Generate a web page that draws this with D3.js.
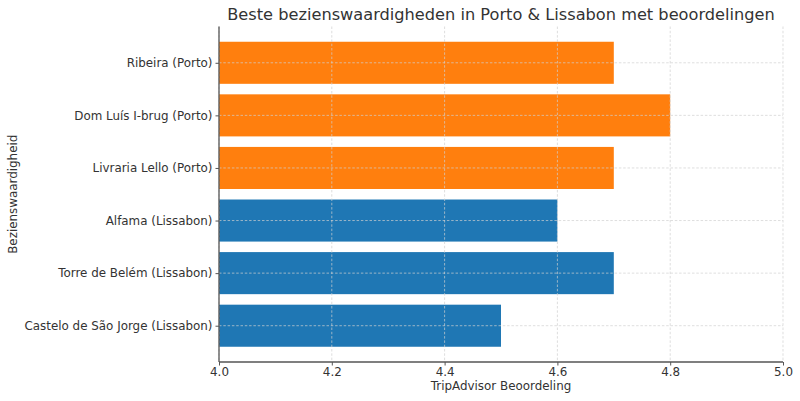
<!DOCTYPE html>
<html><head><meta charset="utf-8">
<script src="https://cdn.jsdelivr.net/npm/d3@7"></script>
<style>body{margin:0;background:#fff}svg{display:block;font-family:"DejaVu Sans",sans-serif}</style>
</head><body><svg id="c" width="800" height="401"></svg>
<script>
const categories = ["Castelo de São Jorge (Lissabon)","Torre de Belém (Lissabon)","Alfama (Lissabon)","Livraria Lello (Porto)","Dom Luís I-brug (Porto)","Ribeira (Porto)"];
const ratings = [4.5, 4.7, 4.6, 4.7, 4.8, 4.7];
const cities = ["Lissabon","Lissabon","Lissabon","Porto","Porto","Porto"];
const xTicks = [4.0, 4.2, 4.4, 4.6, 4.8, 5.0];
const colorMap = {Lissabon:"#1f77b4", Porto:"#ff7f0e"};
const title = "Beste bezienswaardigheden in Porto & Lissabon met beoordelingen";
const xLabel = "TripAdvisor Beoordeling";
const yLabel = "Bezienswaardigheid";

const svg = d3.select("#c");
const m = {l:219, r:783, t:26.5, b:362};
const x = d3.scaleLinear().domain([4.0,5.0]).range([m.l,m.r]);
const y = d3.scaleLinear().domain([-0.69,5.69]).range([m.b,m.t]);
const bh = y(0) - y(0.8);

const data = categories.map((c,i)=>({c, v:ratings[i], city:cities[i], i}));

svg.append("g").selectAll("rect").data(data).join("rect")
  .attr("x", x(4.0)).attr("y", d=>y(d.i+0.4))
  .attr("width", d=>x(d.v)-x(4.0)).attr("height", bh)
  .attr("fill", d=>colorMap[d.city]);

const g = svg.append("g").attr("stroke","#d0d0d0").attr("stroke-width",0.7).attr("stroke-dasharray","2.5,1.8");
g.selectAll("line.v").data(xTicks).join("line").attr("class","v")
  .attr("x1",d=>x(d)).attr("x2",d=>x(d)).attr("y1",m.t).attr("y2",m.b);
g.selectAll("line.h").data(data).join("line").attr("class","h")
  .attr("x1",m.l).attr("x2",m.r).attr("y1",d=>y(d.i)).attr("y2",d=>y(d.i));

const fs = 11.9;
const xAxis = d3.axisBottom(x).tickValues(xTicks).tickFormat(d3.format(".1f")).tickSize(3.5).tickPadding(2.5);
const xg = svg.append("g").attr("transform",`translate(0,${m.b})`).call(xAxis);
xg.select(".domain").remove();
xg.selectAll("line").attr("stroke","#555");
xg.selectAll("text").attr("font-size",fs).attr("fill","#333").attr("font-family","DejaVu Sans");

const yAxis = d3.axisLeft(y).tickValues(data.map(d=>d.i)).tickFormat(i=>categories[i]).tickSize(3.5).tickPadding(3);
const yg = svg.append("g").attr("transform",`translate(${m.l},0)`).call(yAxis);
yg.select(".domain").remove();
yg.selectAll("line").attr("stroke","#555");
yg.selectAll("text").attr("font-size",fs).attr("fill","#333").attr("font-family","DejaVu Sans");

svg.append("line").attr("x1",m.l).attr("x2",m.l).attr("y1",m.t).attr("y2",m.b).attr("stroke","#555").attr("stroke-width",1.3);
svg.append("line").attr("x1",m.l).attr("x2",m.r).attr("y1",m.b).attr("y2",m.b).attr("stroke","#555").attr("stroke-width",1.3);

svg.append("text").attr("x",(m.l+m.r)/2).attr("y",20).attr("text-anchor","middle")
  .attr("font-size",16.2).attr("fill","#333").text(title);
svg.append("text").attr("x",(m.l+m.r)/2).attr("y",390).attr("text-anchor","middle")
  .attr("font-size",fs).attr("fill","#333").text(xLabel);
svg.append("text").attr("transform",`translate(17,${(m.t+m.b)/2}) rotate(-90)`).attr("text-anchor","middle")
  .attr("font-size",fs).attr("fill","#333").text(yLabel);
</script></body></html>
